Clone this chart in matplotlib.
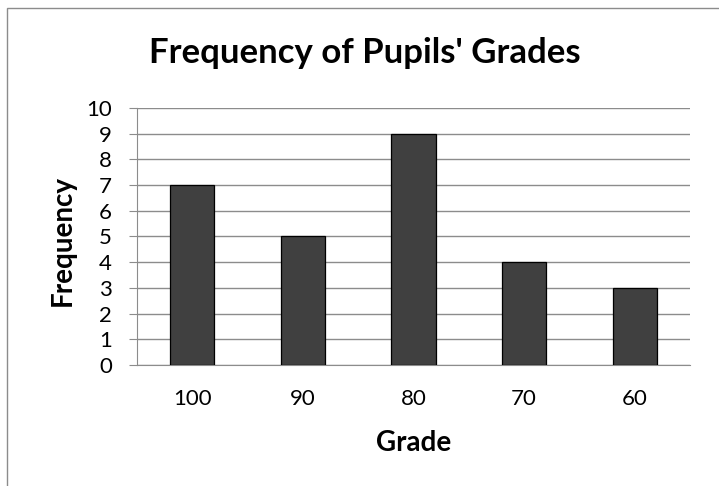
import matplotlib
matplotlib.use("Agg")
import matplotlib.pyplot as plt
from matplotlib.patches import Rectangle

grades = ["100", "90", "80", "70", "60"]
frequency = [7, 5, 9, 4, 3]
y_ticks = list(range(0, 11))

plt.rcParams["font.family"] = ["Lato", "DejaVu Sans"]

W, H = 719, 486
fig = plt.figure(figsize=(W / 100, H / 100), dpi=100)

# chart area frame
fig.patches.append(Rectangle((7 / W, -0.1), 1.2, (H - 8) / H + 0.1,
                             transform=fig.transFigure, fill=False,
                             edgecolor="#8c8c8c", linewidth=1.0))

left, right, top, bottom = 137, 690, 108, 365
ax = fig.add_axes([left / W, (H - bottom) / H, (right - left) / W, (bottom - top) / H])

x = range(len(grades))
ax.bar(x, frequency, width=0.4, color="#404040", edgecolor="black",
       linewidth=0.9, zorder=3)

ax.set_xlim(-0.5, len(grades) - 0.5)
ax.set_ylim(0, 10)
ax.set_yticks(y_ticks)
ax.set_xticks(list(x))
ax.set_xticklabels(grades)

ax.grid(axis="y", color="#8c8c8c", linewidth=1.0, zorder=0)
for s in ["top", "right"]:
    ax.spines[s].set_visible(False)
ax.spines["left"].set_color("#8c8c8c")
ax.spines["bottom"].set_color("#8c8c8c")
ax.tick_params(axis="y", length=6, color="#8c8c8c", labelsize=16, pad=12)
ax.tick_params(axis="x", length=0, labelsize=16, pad=17)

ax.set_ylabel("Frequency", fontsize=20, fontweight="bold")
ax.yaxis.set_label_coords(-(left - 63) / (right - left), 0.5 - (240 - 236.5) / (bottom - top))
ax.set_xlabel("Grade", fontsize=20, fontweight="bold")
ax.xaxis.set_label_coords(0.5, -(443 - bottom) / (bottom - top))
ax.xaxis.label.set_va("center")
ax.yaxis.label.set_va("center")

fig.text(365 / W, 1 - 53 / H, "Frequency of Pupils' Grades", fontsize=25,
         fontweight="bold", ha="center", va="center")

fig.savefig("out.png", dpi=100)
